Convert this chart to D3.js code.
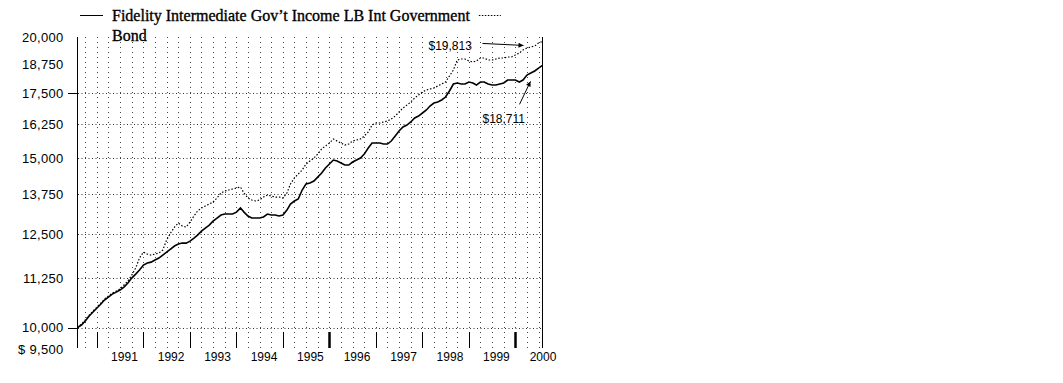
<!DOCTYPE html>
<html>
<head>
<meta charset="utf-8">
<script src="https://cdn.jsdelivr.net/npm/d3@7"></script>
<style>
  html, body { margin: 0; padding: 0; background: #fff; }
  svg { display: block; }
</style>
</head>
<body>
<svg id="chart" width="1063" height="383"></svg>
<script>
// ---------- data ----------
const startMonth = new Date(1990, 7, 1);   // first monthly point (Aug 1990)
const endMonth = new Date(2000, 7, 1);     // last monthly point (Aug 2000)

const fidelityValues = [
  10000, 10060, 10157, 10278, 10377, 10477, 10577, 10679, 10756, 10832, 10883, 10938,
  11016, 11121, 11255, 11362, 11473, 11610, 11665, 11692, 11751, 11807, 11891, 11975,
  12064, 12150, 12207, 12236, 12236, 12293, 12385, 12473, 12591, 12684, 12775, 12895,
  12992, 13085, 13115, 13115, 13115, 13177, 13305, 13177, 13054, 12992, 12992, 12992,
  13023, 13115, 13085, 13085, 13054, 13085, 13242, 13433, 13531, 13595, 13891, 14091,
  14125, 14193, 14327, 14467, 14641, 14780, 14923, 14887, 14816, 14745, 14745, 14852,
  14923, 14994, 15137, 15357, 15542, 15542, 15542, 15505, 15505, 15617, 15804, 15995,
  16148, 16225, 16343, 16499, 16578, 16698, 16818, 16978, 17102, 17143, 17225, 17348,
  17599, 17896, 17939, 17896, 17896, 17982, 17939, 17853, 17982, 17982, 17896, 17853,
  17853, 17896, 17939, 18068, 18068, 18068, 17982, 18068, 18284, 18372, 18461, 18593,
  18711
];

const lbIntGovValues = [
  10000, 10084, 10181, 10303, 10402, 10503, 10603, 10705, 10781, 10858, 10909, 10964,
  11069, 11175, 11335, 11528, 11807, 11975, 11919, 11891, 11919, 11947, 12035, 12326,
  12534, 12714, 12835, 12745, 12714, 12866, 13054, 13210, 13305, 13368, 13433, 13498,
  13628, 13791, 13858, 13891, 13924, 13958, 13991, 13791, 13628, 13563, 13531, 13563,
  13660, 13725, 13693, 13660, 13660, 13628, 13791, 14091, 14295, 14431, 14571, 14780,
  14887, 14994, 15137, 15321, 15430, 15542, 15691, 15617, 15542, 15467, 15505, 15617,
  15654, 15691, 15804, 15956, 16225, 16304, 16304, 16343, 16382, 16460, 16578, 16738,
  16898, 17018, 17143, 17307, 17430, 17558, 17641, 17683, 17726, 17810, 17896, 17982,
  18240, 18505, 18953, 18998, 18998, 18908, 18863, 18908, 19043, 19043, 18953, 18953,
  18998, 19043, 19043, 19089, 19089, 19181, 19272, 19411, 19504, 19550, 19597, 19740,
  19813
];

const seriesNames = ["Fidelity Intermediate Gov\u2019t Income", "LB Int Government Bond"];
const legendLine1 = "Fidelity Intermediate Gov\u2019t Income LB Int Government";
const legendLine2 = "Bond";

const yTickValues = [20000, 18750, 17500, 16250, 15000, 13750, 12500, 11250, 10000, 9500];
const yTickLabels = ["20,000", "18,750", "17,500", "16,250", "15,000", "13,750", "12,500", "11,250", "10,000", "$ 9,500"];
const yGridValues = [17500, 16250, 15000, 13750, 12500, 11250, 10000];
const yMarkedTicks = [17500, 10000];

const xYearLabels = ["1991", "1992", "1993", "1994", "1995", "1996", "1997", "1998", "1999", "2000"];
const xBoldTickYears = [1996, 2000];

const endLabels = ["$19,813", "$18,711"];

// ---------- scales ----------
const svg = d3.select("#chart");
const x = d3.scaleTime().domain([startMonth, endMonth]).range([77.5, 542.5]);
const y = d3.scaleLog().domain([9500, 20000]).range([349, 37.5]);

const dates = fidelityValues.map((_, i) => d3.timeMonth.offset(startMonth, i));
const plotTop = 37, plotBottom = 348;

// ---------- grid ----------
const quarterDates = d3.timeMonth.range(new Date(1990, 9, 1), endMonth, 3);
svg.append("g").selectAll("line").data(quarterDates).join("line")
  .attr("x1", d => Math.round(x(d)) + 0.5).attr("x2", d => Math.round(x(d)) + 0.5)
  .attr("y1", plotTop).attr("y2", plotBottom)
  .attr("stroke", "#444").attr("stroke-width", 1).attr("stroke-dasharray", "1,4");

svg.append("g").selectAll("line").data(yGridValues).join("line")
  .attr("x1", 78).attr("x2", 542)
  .attr("y1", d => Math.round(y(d)) + 0.5).attr("y2", d => Math.round(y(d)) + 0.5)
  .attr("stroke", "#333").attr("stroke-width", 1).attr("stroke-dasharray", "1,2.5");

// ---------- axes ----------
const yAxis = d3.axisLeft(y).tickValues(yTickValues).tickSize(0).tickPadding(14)
  .tickFormat((d, i) => yTickLabels[i]);
const gy = svg.append("g").attr("transform", "translate(77.5,0)").call(yAxis);
gy.select(".domain").remove();
gy.selectAll("text").attr("font-family", "Liberation Sans, Arial, sans-serif")
  .attr("font-size", 13).attr("fill", "#000").attr("letter-spacing", "0.3px");

svg.append("g").selectAll("line").data(yMarkedTicks).join("line")
  .attr("x1", 68).attr("x2", 77.5)
  .attr("y1", d => Math.round(y(d)) + 0.5).attr("y2", d => Math.round(y(d)) + 0.5)
  .attr("stroke", "#000").attr("stroke-width", 1);

// left and right frame lines
svg.append("line").attr("x1", 77.5).attr("x2", 77.5).attr("y1", plotTop).attr("y2", plotBottom)
  .attr("stroke", "#000").attr("stroke-width", 1);
svg.append("line").attr("x1", 542.5).attr("x2", 542.5).attr("y1", plotTop).attr("y2", plotBottom)
  .attr("stroke", "#000").attr("stroke-width", 1);

// year tick marks (Jan 1) below the base line
const yearStarts = d3.timeYear.range(new Date(1991, 0, 1), new Date(2000, 0, 2));
svg.append("g").selectAll("line").data(yearStarts).join("line")
  .attr("x1", d => Math.round(x(d)) + 0.5).attr("x2", d => Math.round(x(d)) + 0.5)
  .attr("y1", 332).attr("y2", 348)
  .attr("stroke", "#000")
  .attr("stroke-width", d => xBoldTickYears.includes(d.getFullYear()) ? 2.5 : 1);

// year labels (fiscal year end positions)
const labelDates = xYearLabels.map(s => new Date(+s, 7, 1));
const xAxis = d3.axisBottom(x).tickValues(labelDates).tickSize(0).tickPadding(0)
  .tickFormat((d, i) => xYearLabels[i]);
const gx = svg.append("g").attr("transform", "translate(0,350)").call(xAxis);
gx.select(".domain").remove();
gx.selectAll("text").attr("font-family", "Liberation Sans, Arial, sans-serif")
  .attr("font-size", 12).attr("fill", "#000").attr("dy", "0.95em");

// ---------- series ----------
const line = d3.line().x((d, i) => x(dates[i])).y(d => y(d)).curve(d3.curveLinear);
svg.append("path").datum(lbIntGovValues).attr("d", line)
  .attr("fill", "none").attr("stroke", "#000").attr("stroke-width", 1.2)
  .attr("stroke-dasharray", "1.5,1.8");
svg.append("path").datum(fidelityValues).attr("d", line)
  .attr("fill", "none").attr("stroke", "#000").attr("stroke-width", 1.6);

// ---------- legend ----------
svg.append("line").attr("x1", 80).attr("x2", 103).attr("y1", 15.5).attr("y2", 15.5)
  .attr("stroke", "#000").attr("stroke-width", 1);
const legendFont = "Liberation Serif, Times New Roman, serif";
const l1 = svg.append("text").attr("x", 112).attr("y", 21).attr("font-family", legendFont)
  .attr("font-size", 16).attr("fill", "#000").attr("stroke", "#000").attr("stroke-width", 0.35)
  .text(legendLine1);
svg.append("text").attr("x", 112).attr("y", 41).attr("font-family", legendFont)
  .attr("font-size", 16).attr("fill", "#000").attr("stroke", "#000").attr("stroke-width", 0.35)
  .text(legendLine2);
const l1End = 112 + l1.node().getComputedTextLength();
svg.append("line").attr("x1", l1End + 9).attr("x2", l1End + 31).attr("y1", 15.5).attr("y2", 15.5)
  .attr("stroke", "#000").attr("stroke-width", 1).attr("stroke-dasharray", "1.5,1.5");

// ---------- end annotations ----------
const defs = svg.append("defs");
defs.append("marker").attr("id", "arrow").attr("viewBox", "0 0 10 10")
  .attr("refX", 10).attr("refY", 5).attr("markerWidth", 9).attr("markerHeight", 5)
  .attr("markerUnits", "userSpaceOnUse").attr("orient", "auto")
  .append("path").attr("d", "M0,0 L10,5 L0,10 Z").attr("fill", "#000");

const lastDate = dates[dates.length - 1];
const lbLast = lbIntGovValues[lbIntGovValues.length - 1];
const fiLast = fidelityValues[fidelityValues.length - 1];

svg.append("text").attr("x", x(lastDate) - 114).attr("y", y(lbLast) + 8.5)
  .attr("font-family", "Liberation Sans, Arial, sans-serif").attr("font-size", 12)
  .attr("fill", "#000").text(endLabels[0]);
svg.append("line").attr("x1", x(lastDate) - 60).attr("y1", y(lbLast) + 2)
  .attr("x2", x(lastDate) - 19).attr("y2", y(lbLast) + 4)
  .attr("stroke", "#000").attr("stroke-width", 1).attr("marker-end", "url(#arrow)");

svg.append("text").attr("x", x(lastDate) - 60).attr("y", y(fiLast) + 58)
  .attr("font-family", "Liberation Sans, Arial, sans-serif").attr("font-size", 12)
  .attr("fill", "#000").text(endLabels[1]);
svg.append("line").attr("x1", x(lastDate) - 23).attr("y1", y(fiLast) + 39)
  .attr("x2", x(lastDate) - 12).attr("y2", y(fiLast) + 16)
  .attr("stroke", "#000").attr("stroke-width", 1).attr("marker-end", "url(#arrow)");
</script>
</body>
</html>
